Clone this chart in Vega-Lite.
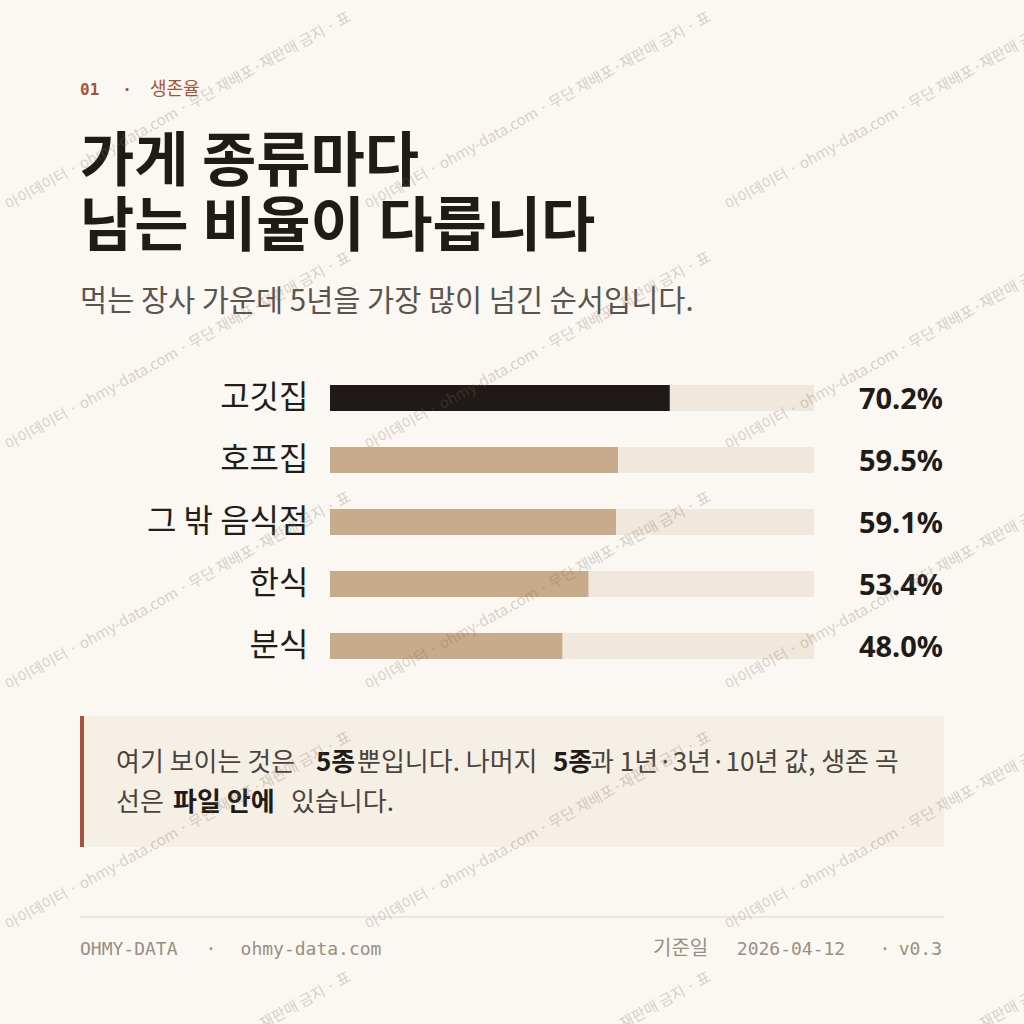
{
  "$schema": "https://vega.github.io/schema/vega-lite/v6.json",
  "description": "가게 종류별 5년 생존율 막대 차트",
  "width": 484,
  "height": 310,
  "autosize": "none",
  "padding": {"left": 330, "top": 367, "right": 210, "bottom": 347},
  "background": "#fbf8f3",
  "config": {"view": {"stroke": null}, "font": "Noto Sans CJK KR"},
  "datasets": {
    "survival": [
      {"category": "고깃집", "rate": 0.702},
      {"category": "호프집", "rate": 0.595},
      {"category": "그 밖 음식점", "rate": 0.591},
      {"category": "한식", "rate": 0.534},
      {"category": "분식", "rate": 0.48}
    ],
    "tiles": [
      {"c": 0, "r": 0}, {"c": 1, "r": 0}, {"c": 2, "r": 0},
      {"c": 0, "r": 1}, {"c": 1, "r": 1}, {"c": 2, "r": 1},
      {"c": 0, "r": 2}, {"c": 1, "r": 2}, {"c": 2, "r": 2},
      {"c": 0, "r": 3}, {"c": 1, "r": 3}, {"c": 2, "r": 3},
      {"c": 0, "r": 4}, {"c": 1, "r": 4}, {"c": 2, "r": 4}
    ]
  },
  "layer": [
    {
      "data": {"values": [{}]},
      "mark": {"type": "rect", "fill": "#f6efe6"},
      "encoding": {"x": {"value": -250}, "x2": {"value": 614}, "y": {"value": 349}, "y2": {"value": 480}}
    },
    {
      "data": {"values": [{}]},
      "mark": {"type": "rect", "fill": "#a4543a"},
      "encoding": {"x": {"value": -250}, "x2": {"value": -246}, "y": {"value": 349}, "y2": {"value": 480}}
    },
    {
      "data": {"values": [{}]},
      "mark": {"type": "rule", "stroke": "#e8e1d6", "strokeWidth": 1.5},
      "encoding": {"x": {"value": -250}, "x2": {"value": 614}, "y": {"value": 550}}
    },
    {
      "data": {"name": "survival"},
      "encoding": {
        "y": {
          "field": "category",
          "type": "nominal",
          "sort": null,
          "scale": {"paddingInner": 0, "paddingOuter": 0},
          "axis": {
            "title": null,
            "domain": false,
            "ticks": false,
            "labelFont": "Noto Sans CJK KR",
            "labelFontSize": 32,
            "labelColor": "#221d19",
            "labelPadding": 22,
            "labelLimit": 400
          }
        }
      },
      "layer": [
        {
          "mark": {"type": "bar", "size": 26, "fill": "#f0e8dc"},
          "encoding": {
            "x": {"datum": 1, "type": "quantitative", "scale": {"domain": [0, 1]}, "axis": null}
          }
        },
        {
          "mark": {"type": "bar", "size": 26},
          "encoding": {
            "x": {"field": "rate", "type": "quantitative"},
            "color": {
              "field": "category",
              "type": "nominal",
              "scale": {
                "domain": ["고깃집", "호프집", "그 밖 음식점", "한식", "분식"],
                "range": ["#1f1a17", "#c8ab8a", "#c8ab8a", "#c8ab8a", "#c8ab8a"]
              },
              "legend": null
            }
          }
        },
        {
          "mark": {
            "type": "text",
            "align": "right",
            "baseline": "middle",
            "dx": 129,
            "dy": 2,
            "font": "Noto Sans",
            "fontWeight": "bold",
            "fontSize": 29,
            "fill": "#1f1b17"
          },
          "encoding": {
            "x": {"datum": 1, "type": "quantitative"},
            "text": {"field": "rate", "type": "quantitative", "format": ".1%"}
          }
        }
      ]
    },
    {
      "data": {"values": [{}]},
      "mark": {"type": "text", "text": "01", "align": "left", "baseline": "middle", "font": "DejaVu Sans Mono", "fontWeight": "bold", "fontSize": 16, "fill": "#a4543a"},
      "encoding": {"x": {"value": -250}, "y": {"value": -277}}
    },
    {
      "data": {"values": [{}]},
      "mark": {"type": "text", "text": "·", "align": "center", "baseline": "middle", "font": "DejaVu Sans Mono", "fontWeight": "bold", "fontSize": 16, "fill": "#a4543a"},
      "encoding": {"x": {"value": -203}, "y": {"value": -277}}
    },
    {
      "data": {"values": [{}]},
      "mark": {"type": "text", "text": "생존율", "align": "left", "baseline": "middle", "font": "Noto Sans CJK KR", "fontSize": 18, "fill": "#a4543a"},
      "encoding": {"x": {"value": -180}, "y": {"value": -277}}
    },
    {
      "data": {"values": [{}]},
      "mark": {"type": "text", "text": "가게 종류마다", "align": "left", "baseline": "alphabetic", "font": "Noto Sans CJK KR", "fontWeight": "bold", "fontSize": 59, "fill": "#1f1b17"},
      "encoding": {"x": {"value": -250}, "y": {"value": -186}}
    },
    {
      "data": {"values": [{}]},
      "mark": {"type": "text", "text": "남는 비율이 다릅니다", "align": "left", "baseline": "alphabetic", "font": "Noto Sans CJK KR", "fontWeight": "bold", "fontSize": 59, "fill": "#1f1b17"},
      "encoding": {"x": {"value": -250}, "y": {"value": -121}}
    },
    {
      "data": {"values": [{}]},
      "mark": {"type": "text", "text": "먹는 장사 가운데 5년을 가장 많이 넘긴 순서입니다.", "align": "left", "baseline": "alphabetic", "font": "Noto Sans CJK KR", "fontSize": 29.5, "fill": "#5a544e"},
      "encoding": {"x": {"value": -250}, "y": {"value": -56}}
    },
    {
      "data": {"values": [{}]},
      "mark": {"type": "text", "text": "여기 보이는 것은", "align": "left", "baseline": "alphabetic", "fontSize": 26, "fill": "#4a4440"},
      "encoding": {"x": {"value": -214}, "y": {"value": 404}}
    },
    {
      "data": {"values": [{}]},
      "mark": {"type": "text", "text": "5종", "align": "left", "baseline": "alphabetic", "fontSize": 26, "fontWeight": "bold", "fill": "#1f1b17"},
      "encoding": {"x": {"value": -14}, "y": {"value": 404}}
    },
    {
      "data": {"values": [{}]},
      "mark": {"type": "text", "text": "뿐입니다. 나머지", "align": "left", "baseline": "alphabetic", "fontSize": 26, "fill": "#4a4440"},
      "encoding": {"x": {"value": 27}, "y": {"value": 404}}
    },
    {
      "data": {"values": [{}]},
      "mark": {"type": "text", "text": "5종", "align": "left", "baseline": "alphabetic", "fontSize": 26, "fontWeight": "bold", "fill": "#1f1b17"},
      "encoding": {"x": {"value": 223}, "y": {"value": 404}}
    },
    {
      "data": {"values": [{}]},
      "mark": {"type": "text", "text": "과 1년·3년·10년 값, 생존 곡", "align": "left", "baseline": "alphabetic", "fontSize": 26, "fill": "#4a4440"},
      "encoding": {"x": {"value": 260}, "y": {"value": 404}}
    },
    {
      "data": {"values": [{}]},
      "mark": {"type": "text", "text": "선은", "align": "left", "baseline": "alphabetic", "fontSize": 26, "fill": "#4a4440"},
      "encoding": {"x": {"value": -214}, "y": {"value": 444}}
    },
    {
      "data": {"values": [{}]},
      "mark": {"type": "text", "text": "파일 안에", "align": "left", "baseline": "alphabetic", "fontSize": 26, "fontWeight": "bold", "fill": "#1f1b17"},
      "encoding": {"x": {"value": -157}, "y": {"value": 444}}
    },
    {
      "data": {"values": [{}]},
      "mark": {"type": "text", "text": "있습니다.", "align": "left", "baseline": "alphabetic", "fontSize": 26, "fill": "#4a4440"},
      "encoding": {"x": {"value": -39}, "y": {"value": 444}}
    },
    {
      "data": {"values": [{}]},
      "mark": {"type": "text", "text": "OHMY-DATA", "align": "left", "baseline": "alphabetic", "font": "DejaVu Sans Mono", "fontSize": 18, "fill": "#9a8e80"},
      "encoding": {"x": {"value": -250}, "y": {"value": 588}}
    },
    {
      "data": {"values": [{}]},
      "mark": {"type": "text", "text": "·", "align": "center", "baseline": "alphabetic", "font": "DejaVu Sans Mono", "fontSize": 18, "fill": "#9a8e80"},
      "encoding": {"x": {"value": -119}, "y": {"value": 588}}
    },
    {
      "data": {"values": [{}]},
      "mark": {"type": "text", "text": "ohmy-data.com", "align": "center", "baseline": "alphabetic", "font": "DejaVu Sans Mono", "fontSize": 18, "fill": "#9a8e80"},
      "encoding": {"x": {"value": -19}, "y": {"value": 588}}
    },
    {
      "data": {"values": [{}]},
      "mark": {"type": "text", "text": "기준일", "align": "left", "baseline": "alphabetic", "font": "Noto Sans CJK KR", "fontSize": 20, "fill": "#9a8e80"},
      "encoding": {"x": {"value": 323}, "y": {"value": 588}}
    },
    {
      "data": {"values": [{}]},
      "mark": {"type": "text", "text": "2026-04-12", "align": "center", "baseline": "alphabetic", "font": "DejaVu Sans Mono", "fontSize": 18, "fill": "#9a8e80"},
      "encoding": {"x": {"value": 461}, "y": {"value": 588}}
    },
    {
      "data": {"values": [{}]},
      "mark": {"type": "text", "text": "·", "align": "center", "baseline": "alphabetic", "font": "DejaVu Sans Mono", "fontSize": 18, "fill": "#9a8e80"},
      "encoding": {"x": {"value": 555}, "y": {"value": 588}}
    },
    {
      "data": {"values": [{}]},
      "mark": {"type": "text", "text": "v0.3", "align": "right", "baseline": "alphabetic", "font": "DejaVu Sans Mono", "fontSize": 18, "fill": "#9a8e80"},
      "encoding": {"x": {"value": 612}, "y": {"value": 588}}
    },
    {
      "data": {"name": "tiles"},
      "mark": {"type": "text", "text": "아이데이터 · ohmy-data.com · 무단 재배포·재판매 금지 · 표", "align": "center", "baseline": "middle", "angle": -29, "fontSize": 15, "fill": "#7d6a55", "opacity": 0.28},
      "encoding": {
        "x": {"field": "c", "type": "quantitative", "scale": {"domain": [0, 2], "range": [-152, 568], "zero": false, "nice": false}, "axis": null},
        "y": {"field": "r", "type": "quantitative", "scale": {"domain": [0, 4], "range": [-256, 704], "zero": false, "nice": false}, "axis": null}
      }
    }
  ],
  "resolve": {"scale": {"x": "independent", "y": "independent"}}
}
